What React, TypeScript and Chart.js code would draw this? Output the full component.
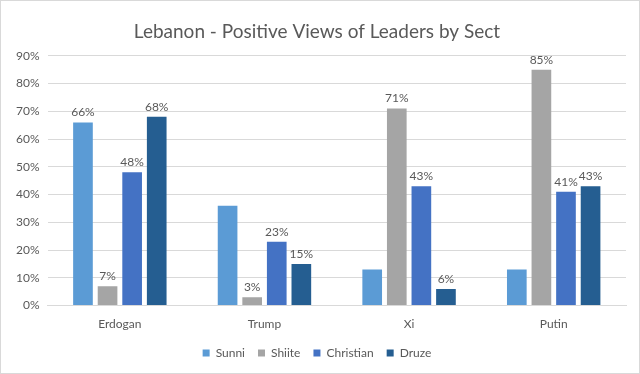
import React, { useEffect, useRef } from "react";
import { Chart, registerables } from "chart.js";

Chart.register(...registerables);

const categories = ["Erdogan", "Trump", "Xi", "Putin"];
const sunni = [66, 36, 13, 13];
const shiite = [7, 3, 71, 85];
const christian = [48, 23, 43, 41];
const druze = [68, 15, 6, 43];
// which bars show a value label
const sunniLabels = [true, false, false, false];
const shiiteLabels = [true, true, true, true];
const christianLabels = [true, true, true, true];
const druzeLabels = [true, true, true, true];

const FONT = "Lato, 'Open Sans', sans-serif";
const TEXT = "#595959";

const frame = {
  id: "frame",
  beforeDraw(chart: any) {
    const { ctx, width, height } = chart;
    ctx.save();
    ctx.fillStyle = "#ffffff";
    ctx.fillRect(0, 0, width, height);
    ctx.strokeStyle = "#d9d9d9";
    ctx.lineWidth = 1;
    ctx.strokeRect(0.5, 0.5, width - 1, height - 1);
    ctx.restore();
  },
};

const valueLabels = {
  id: "valueLabels",
  afterDatasetsDraw(chart: any) {
    const { ctx } = chart;
    ctx.save();
    ctx.font = `12px ${FONT}`;
    ctx.fillStyle = TEXT;
    ctx.textAlign = "center";
    ctx.textBaseline = "bottom";
    chart.data.datasets.forEach((ds: any, i: number) => {
      const meta = chart.getDatasetMeta(i);
      meta.data.forEach((bar: any, j: number) => {
        if (!ds.showLabels[j]) return;
        ctx.fillText(ds.data[j] + "%", bar.x, bar.y - 4);
      });
    });
    ctx.restore();
  },
};

export default function App() {
  const ref = useRef<HTMLCanvasElement>(null);
  useEffect(() => {
    document.body.style.margin = "0";
    const mk = (label: string, data: number[], color: string, showLabels: boolean[]) => ({
      label,
      data,
      backgroundColor: color,
      borderWidth: 0,
      barPercentage: 0.8,
      categoryPercentage: 0.68,
      showLabels,
    });
    const chart = new Chart(ref.current!, {
      type: "bar",
      data: {
        labels: categories,
        datasets: [
          mk("Sunni", sunni, "#5B9BD5", sunniLabels),
          mk("Shiite", shiite, "#A5A5A5", shiiteLabels),
          mk("Christian", christian, "#4472C4", christianLabels),
          mk("Druze", druze, "#255E91", druzeLabels),
        ] as any,
      },
      options: {
        animation: false,
        responsive: false,
        layout: { padding: { left: 8, right: 14, top: 8, bottom: 5 } },
        plugins: {
          title: {
            display: true,
            text: "Lebanon - Positive Views of Leaders by Sect",
            color: TEXT,
            font: { family: FONT, size: 19, weight: "normal" },
            padding: { top: 12, bottom: 13 },
          },
          legend: {
            position: "bottom",
            labels: {
              color: TEXT,
              font: { family: FONT, size: 12 },
              boxWidth: 7,
              boxHeight: 7,
              padding: 13,
            },
          },
          tooltip: { enabled: false },
        },
        scales: {
          x: {
            grid: { display: false },
            border: { color: "#d9d9d9" },
            ticks: { color: TEXT, font: { family: FONT, size: 12 }, padding: 3 },
          },
          y: {
            min: 0,
            max: 90,
            ticks: {
              stepSize: 10,
              color: TEXT,
              font: { family: FONT, size: 12 },
              padding: 8,
              callback: (v: any) => v + "%",
            },
            grid: { color: "#d9d9d9", drawTicks: false },
            border: { display: false },
          },
        },
      },
      plugins: [frame, valueLabels],
    });
    return () => chart.destroy();
  }, []);
  return <canvas ref={ref} width={640} height={374} style={{ display: "block" }} />;
}
